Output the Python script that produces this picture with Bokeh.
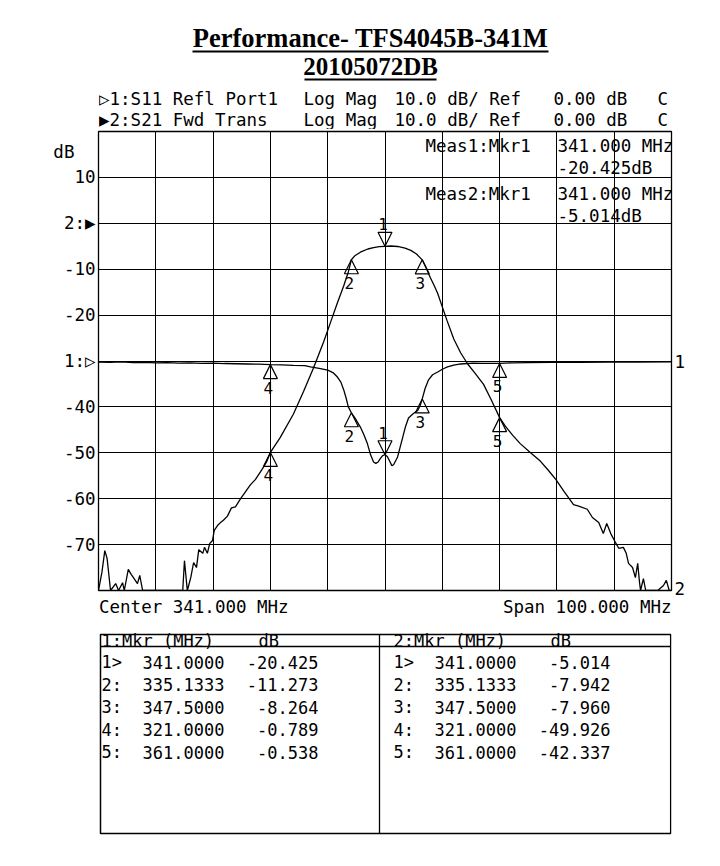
from bokeh.plotting import figure
from bokeh.models import Range1d, LinearAxis, FixedTicker, Grid, Label
from bokeh.layouts import column
from bokeh.embed import file_html
from bokeh.resources import INLINE
from bokeh.core.properties import value

MONO = "DejaVu Sans Mono"
SERIF = "Liberation Serif"
MONO_SIZE = "17.5px"

# ---------------- data ----------------
title_text = "Performance- TFS4045B-341M"
subtitle_text = "20105072DB"

center_mhz = 341.0
span_mhz = 100.0

ch1_header = ["\u25B71:S11 Refl Port1", "Log Mag", "10.0 dB/ Ref", "0.00 dB", "C"]
ch2_header = ["\u25B62:S21 Fwd Trans", "Log Mag", "10.0 dB/ Ref", "0.00 dB", "C"]

y_ticks = [-70, -60, -50, -40, -30, -20, -10, 0, 10]
y_tick_labels = ["-70", "-60", "-50", "-40", "1:\u25B7", "-20", "-10", "2:\u25B6", "10"]
unit_tick = 15.5
unit_label = "dB\u00a0\u00a0"

s21_freq = [291.0, 291.6, 292.1, 292.5, 293.1, 294.0, 294.5, 295.2, 295.5, 296.2, 296.7, 297.1, 297.8,
            298.2, 298.7, 305.7, 306.0, 306.5, 307.1, 307.6, 308.1, 308.5, 309.2, 309.5, 310.0, 310.4,
            310.9, 311.2, 311.8, 312.3, 312.8, 313.5, 314.2, 314.9, 315.8, 316.7, 317.5, 318.4, 319.6,
            320.4, 321.0, 322.7, 325.0, 326.8, 328.5, 330.3, 331.6, 332.7, 333.8, 334.6, 335.1333, 335.8,
            336.7, 338.0, 339.0, 340.0, 341.0, 342.0, 343.2, 344.5, 345.5, 346.5, 347.5, 348.2, 348.9,
            349.6, 350.2, 351.0, 351.8, 353.0, 354.2, 355.4, 356.8, 358.2, 359.6, 361.0, 362.0, 363.3,
            364.6, 366.4, 368.1, 369.5, 370.8, 372.3, 373.9, 374.8, 376.3, 377.2, 378.3, 379.1, 379.7,
            380.4, 381.2, 381.8, 382.6, 383.1, 383.5, 384.2, 384.7, 385.1, 385.4, 385.6, 386.1, 386.5,
            388.6, 389.6, 390.1, 390.6, 391.0]
s21_db = [-80, -76, -71.3, -73, -80, -78.5, -80, -78.3, -80, -75.4, -76.5, -77.2, -78.5,
          -76.7, -80, -80, -73.5, -80, -77.2, -73.9, -75.0, -71.1, -71.9, -70.6, -71.9, -69.8,
          -69.1, -66.9, -65.8, -65.2, -64.7, -63.8, -62.0, -61.8, -60.0, -58.4, -57.0, -55.8, -53.5,
          -51.8, -49.926, -46.7, -41.6, -36.6, -31.6, -25.8, -21.2, -17.3, -13.6, -10.6, -7.942, -7.0,
          -6.3, -5.6, -5.3, -5.1, -5.014, -4.95, -5.05, -5.4, -5.9, -6.7, -7.960, -9.8, -11.8,
          -13.6, -15.3, -18.2, -21.1, -25.2, -28.2, -30.6, -32.8, -35.1, -38.6, -42.337, -44.2, -46.2,
          -48.0, -50.0, -51.8, -53.8, -55.8, -58.5, -61.3, -61.6, -62.3, -64.1, -65.2, -67.6, -65.4,
          -67.6, -69.5, -70.8, -70.6, -71.9, -74.1, -75.0, -77.2, -74.1, -78.0, -80, -77.4, -80,
          -80, -78.9, -77.8, -80, -80]

s11_freq = [291.0, 293.0, 295.0, 297.0, 299.0, 301.0, 303.0, 305.0, 307.0, 309.0, 311.0, 313.0, 315.0,
            317.0, 319.0, 321.0, 323.0, 325.0, 327.0, 328.0, 329.5, 331.0, 332.0, 332.7, 333.3, 333.8,
            334.2, 334.6, 335.1333, 335.8, 336.7, 337.3, 337.9, 338.5, 339.0, 339.4, 339.8, 340.2, 340.6,
            341.0, 341.4, 341.8, 342.2, 342.5, 343.2, 343.7, 344.1, 344.6, 345.1, 345.9, 346.7, 347.1,
            347.5, 348.0, 348.6, 349.3, 350.2, 351.0, 351.9, 353.0, 354.2, 356.4, 358.0, 361.0, 363.0,
            366.0, 370.0, 375.0, 380.0, 385.0, 391.0]
s11_db = [-0.25, -0.3, -0.2, -0.35, -0.3, -0.4, -0.35, -0.45, -0.4, -0.5, -0.45, -0.55, -0.6,
          -0.65, -0.7, -0.789, -0.85, -0.95, -1.0, -1.3, -1.6, -2.0, -2.6, -3.5, -4.6, -6.3,
          -8.0, -10.0, -11.273, -12.5, -14.4, -16.0, -17.9, -20.5, -22.0, -22.3, -22.0, -21.2, -20.6,
          -20.425, -20.8, -21.8, -22.8, -22.6, -20.9, -18.5, -16.6, -14.2, -12.4, -11.5, -10.8, -9.8,
          -8.264, -6.0, -4.1, -3.0, -2.4, -1.8, -1.3, -0.9, -0.65, -0.45, -0.5, -0.538, -0.4,
          -0.35, -0.3, -0.3, -0.25, -0.25, -0.2]

marker_ids = ["1", "2", "3", "4", "5"]
marker_tags = ["1>", "2:", "3:", "4:", "5:"]
marker_freq = [341.0, 335.1333, 347.5, 321.0, 361.0]
marker_s11 = [-20.425, -11.273, -8.264, -0.789, -0.538]
marker_s21 = [-5.014, -7.942, -7.960, -49.926, -42.337]

# right-edge channel indicators (position on the S11 scale)
right_ticks = [0, -49.6]
right_labels = ["1", "2"]

# ---------------- common geometry (page pixels) ----------------
W = 712
BL, BR = 98, 41            # left / right borders shared by all stacked figures
FL, FR = BL, W - BR        # frame x extent in page pixels (98 .. 671)


def canvas(y_top, y_bot):
    f = figure(width=W, height=y_bot - y_top, x_range=Range1d(FL, FR), y_range=Range1d(y_bot, y_top),
               x_axis_type=None, y_axis_type=None, output_backend="svg", toolbar_location=None,
               min_border_left=BL, min_border_right=BR, min_border_top=0, min_border_bottom=0,
               title=None)
    f.outline_line_color = None
    f.background_fill_color = "white"
    f.border_fill_color = "white"
    return f


# ---------------- header figure (titles + channel lines) ----------------
h = canvas(0, 129)
h.text(x=[370], y=[37], text=[title_text], text_font=value(SERIF), text_font_style="bold",
       text_font_size="26.5px", text_align="center", text_baseline="middle", text_color="black")
h.segment(x0=[192], y0=[51], x1=[548], y1=[51], line_width=2, line_color="black")
h.text(x=[370], y=[66], text=[subtitle_text], text_font=value(SERIF), text_font_style="bold",
       text_font_size="25px", text_align="center", text_baseline="middle", text_color="black")
h.segment(x0=[304], y0=[79], x1=[436], y1=[79], line_width=2, line_color="black")

hdr_x = [98.5, 303, 394, 553, 657]
hfont = dict(text_font=value(MONO), text_font_size=MONO_SIZE, text_align="left",
             text_baseline="middle", text_color="black")
h.text(x=hdr_x, y=[98] * 5, text=ch1_header, **hfont)
h.text(x=hdr_x, y=[119] * 5, text=ch2_header, **hfont)

# ---------------- main analyzer figure ----------------
x0 = center_mhz - span_mhz / 2
x1 = center_mhz + span_mhz / 2
p = figure(width=W, height=469, x_range=Range1d(x0, x1), y_range=Range1d(-80, 20),
           x_axis_type=None, y_axis_type=None, output_backend="svg", toolbar_location=None,
           min_border_left=BL, min_border_right=BR, min_border_top=2, min_border_bottom=8,
           title=None)
p.extra_y_ranges = {"s11": Range1d(-50, 50)}
p.outline_line_color = "black"
p.outline_line_width = 1.3
p.background_fill_color = "white"
p.border_fill_color = "white"

axis_style = dict(major_tick_line_color=None, minor_tick_line_color=None, axis_line_color=None,
                  major_tick_in=0, major_tick_out=0, minor_tick_in=0, minor_tick_out=0,
                  major_label_text_font=MONO, major_label_text_font_size=MONO_SIZE,
                  major_label_text_color="black", major_label_standoff=3)
left_ticks = y_ticks + [unit_tick]
left_labels = y_tick_labels + [unit_label]
yaxis = LinearAxis(ticker=FixedTicker(ticks=left_ticks),
                   major_label_overrides=dict(zip(left_ticks, left_labels)), **axis_style)
p.add_layout(yaxis, "left")

raxis = LinearAxis(y_range_name="s11", ticker=FixedTicker(ticks=right_ticks),
                   major_label_overrides=dict(zip(right_ticks, right_labels)), **axis_style)
p.add_layout(raxis, "right")

p.add_layout(Grid(dimension=1, ticker=FixedTicker(ticks=y_ticks), grid_line_color="black",
                  grid_line_width=1, grid_line_alpha=1))
x_grid = [x0 + span_mhz / 10 * i for i in range(1, 10)]
p.add_layout(Grid(dimension=0, ticker=FixedTicker(ticks=x_grid), grid_line_color="black",
                  grid_line_width=1, grid_line_alpha=1))

p.line(s21_freq, s21_db, line_color="black", line_width=1.3)
p.line(s11_freq, s11_db, line_color="black", line_width=1.3, y_range_name="s11")

# marker triangles (14 px wide / high)
FW, FH = float(FR - FL), 459.0
tw = 14 * span_mhz / FW
th = 14 * 100.0 / FH


def tri_paths(vals):
    xs, ys = [], []
    for i, (f, v) in enumerate(zip(marker_freq, vals)):
        d = 1 if i == 0 else -1  # marker 1 points down (base above)
        xs.append([f, f - tw / 2, f + tw / 2])
        ys.append([v, v + d * th, v + d * th])
    return xs, ys


xs21, ys21 = tri_paths(marker_s21)
xs11, ys11 = tri_paths(marker_s11)
p.patches(xs21, ys21, fill_color=None, line_color="black", line_width=1.2)
p.patches(xs11, ys11, fill_color=None, line_color="black", line_width=1.2, y_range_name="s11")

mk_font = dict(text_font=value(MONO), text_font_size="16px", text_align="center",
               text_baseline="middle", text_color="black")
p.text(x=marker_freq[:1], y=marker_s21[:1], text=marker_ids[:1], x_offset=-2, y_offset=-22, **mk_font)
p.text(x=marker_freq[1:], y=marker_s21[1:], text=marker_ids[1:], x_offset=-2, y_offset=23, **mk_font)
p.text(x=marker_freq[:1], y=marker_s11[:1], text=marker_ids[:1], x_offset=-2, y_offset=-22,
       y_range_name="s11", **mk_font)
p.text(x=marker_freq[1:], y=marker_s11[1:], text=marker_ids[1:], x_offset=-2, y_offset=23,
       y_range_name="s11", **mk_font)


def lab(text, dx, dy):
    p.add_layout(Label(x=x0, y=20, x_offset=dx, y_offset=dy, text=text, text_font=MONO,
                       text_font_size=MONO_SIZE, text_align="left", text_baseline="middle",
                       text_color="black"))


# measurement readouts (inside the frame)
lab("Meas1:Mkr1", 327, -14)
lab(f"{marker_freq[0]:.3f} MHz", 459, -14)
lab(f"{marker_s11[0]:.3f}dB", 459, -36)
lab("Meas2:Mkr1", 327, -62)
lab(f"{marker_freq[0]:.3f} MHz", 459, -62)
lab(f"{marker_s21[0]:.3f}dB", 459, -84)

# ---------------- footer + marker table ----------------
t = canvas(598, 843)
t.text(x=[98.5], y=[606.5], text=[f"Center {center_mhz:.3f} MHz"], **hfont)
t.text(x=[671], y=[606.5], text=[f"Span {span_mhz:.3f} MHz"], text_font=value(MONO),
       text_font_size=MONO_SIZE, text_align="right", text_baseline="middle", text_color="black")

t.quad(left=[100], right=[670.2], top=[634], bottom=[833], fill_color=None, line_color="black",
       line_width=1.5)
t.segment(x0=[379, 100], y0=[634, 646], x1=[379, 670.2], y1=[833, 646], line_color="black",
          line_width=1.3)

tfont = dict(text_font=value(MONO), text_font_size="17px", text_baseline="middle", text_color="black")
row_y = [661.5, 684, 706.5, 729, 751.5]
for base, ch, vals in [(0, "1", marker_s11), (292, "2", marker_s21)]:
    t.text(x=[101 + base], y=[640], text=[f"{ch}:Mkr (MHz)"], text_align="left", **tfont)
    t.text(x=[258 + base], y=[640], text=["dB"], text_align="left", **tfont)
    t.text(x=[101 + base] * 5, y=row_y, text=marker_tags, text_align="left", **tfont)
    t.text(x=[142 + base] * 5, y=row_y, text=[f"{f:.4f}" for f in marker_freq], text_align="left", **tfont)
    t.text(x=[318 + base] * 5, y=row_y, text=[f"{v:.3f}" for v in vals], text_align="right", **tfont)

layout = column(h, p, t)
open("out.html", "w").write(file_html(layout, INLINE))
